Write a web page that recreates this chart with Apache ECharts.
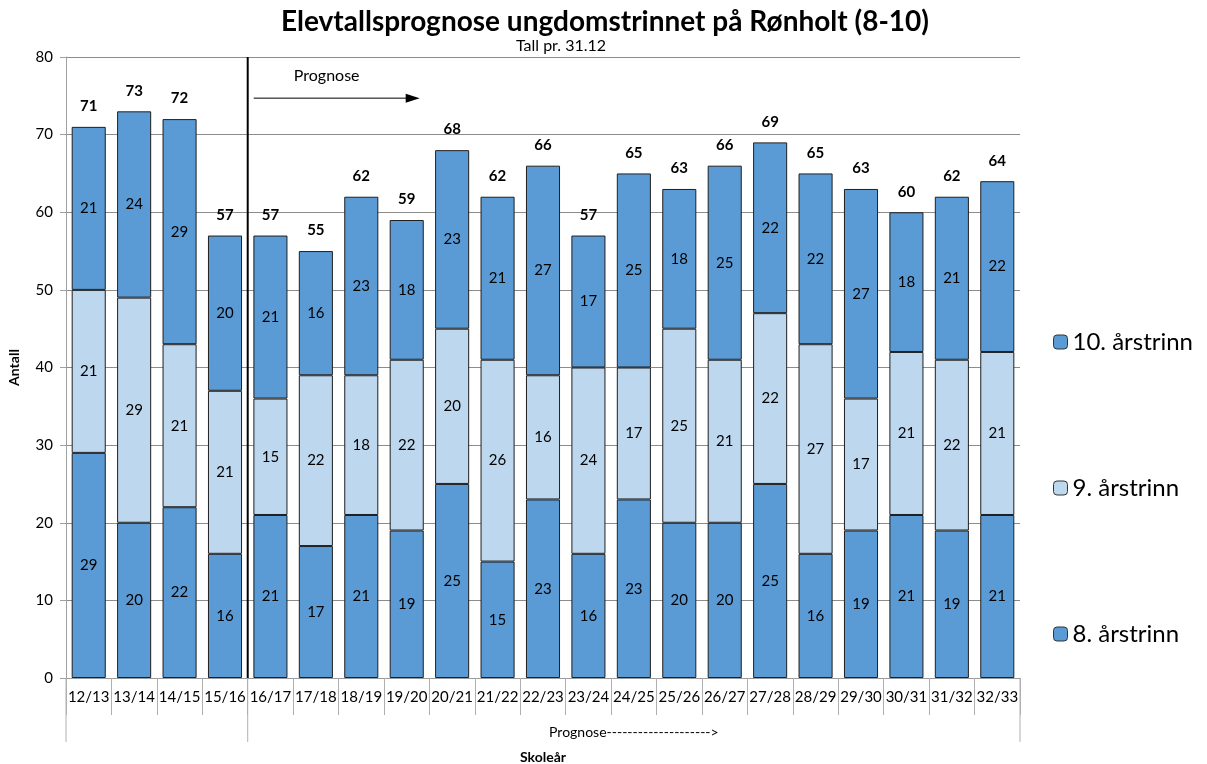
<!DOCTYPE html>
<html><head><meta charset="utf-8">
<script src="https://cdn.jsdelivr.net/npm/echarts@6/dist/echarts.min.js"></script>
<style>html,body{margin:0;padding:0;background:#fff}#c{width:1207px;height:764px}</style>
</head><body><div id="c"></div>
<script>
const categories = ['12/13','13/14','14/15','15/16','16/17','17/18','18/19','19/20','20/21','21/22','22/23','23/24','24/25','25/26','26/27','27/28','28/29','29/30','30/31','31/32','32/33'];
const trinn8  = [29,20,22,16,21,17,21,19,25,15,23,16,23,20,20,25,16,19,21,19,21];
const trinn9  = [21,29,21,21,15,22,18,22,20,26,16,24,17,25,21,22,27,17,21,22,21];
const trinn10 = [21,24,29,20,21,16,23,18,23,21,27,17,25,18,25,22,22,27,18,21,22];
const totals  = [71,73,72,57,57,55,62,59,68,62,66,57,65,63,66,69,65,63,60,62,64];
const yTicks = {min:0, max:80, interval:10};

const FONT = 'Lato';
const chart = echarts.init(document.getElementById('c'));
const segLabel = {show:true, position:'inside', color:'#000', fontSize:15, fontFamily:FONT};
const border = {borderColor:'#1f1f1f', borderWidth:1};
const option = {
  animation:false,
  textStyle:{fontFamily:FONT},
  title:[
    {text:'Elevtallsprognose ungdomstrinnet på Rønholt (8-10)', left:600, top:3, textAlign:'center',
     textStyle:{fontSize:28, fontWeight:'bold', color:'#000', fontFamily:FONT}},
    {text:'Tall pr. 31.12', left:556, top:33, textAlign:'center',
     textStyle:{fontSize:16, fontWeight:'normal', color:'#000', fontFamily:FONT}}
  ],
  grid:{left:66, right:187, top:57, bottom:86, containLabel:false, outerBoundsMode:'none'},
  legend:{
    orient:'vertical', left:1048, top:325, itemGap:122, itemWidth:14, itemHeight:14,
    data:['10. årstrinn','9. årstrinn','8. årstrinn'],
    textStyle:{fontSize:24, color:'#000', fontFamily:FONT},
    itemStyle:{borderColor:'#333', borderWidth:1}
  },
  xAxis:{
    type:'category', data:categories,
    axisLine:{lineStyle:{color:'#9a9a9a'}},
    axisTick:{show:true, length:37, lineStyle:{color:'#b0b0b0'}},
    axisLabel:{color:'#000', fontSize:15, margin:12, fontFamily:FONT, interval:0},
    name:'Skoleår', nameLocation:'middle', nameGap:72,
    nameTextStyle:{fontWeight:'bold', fontSize:14, color:'#000', fontFamily:FONT}
  },
  yAxis:{
    type:'value', min:yTicks.min, max:yTicks.max, interval:yTicks.interval,
    axisLine:{show:true, lineStyle:{color:'#a0a0a0'}},
    axisTick:{show:true, length:6, lineStyle:{color:'#a0a0a0'}},
    splitLine:{lineStyle:{color:'#8c8c8c'}},
    axisLabel:{color:'#000', fontSize:15, margin:13, fontFamily:FONT},
    name:'Antall', nameLocation:'middle', nameGap:45,
    nameTextStyle:{fontWeight:'bold', fontSize:14, color:'#000', fontFamily:FONT}
  },
  series:[
    {name:'8. årstrinn', type:'bar', stack:'t', data:trinn8, barWidth:'75%',
     itemStyle:Object.assign({color:'#5b9bd5'}, border), label:segLabel},
    {name:'9. årstrinn', type:'bar', stack:'t', data:trinn9,
     itemStyle:Object.assign({color:'#bdd7ee'}, border), label:segLabel},
    {name:'10. årstrinn', type:'bar', stack:'t', data:trinn10,
     itemStyle:Object.assign({color:'#5b9bd5'}, border), label:segLabel},
    {name:'Total', type:'scatter', data:totals, symbolSize:0, silent:true,
     itemStyle:{opacity:1, color:'#000'},
     label:{show:true, position:'top', distance:13, color:'#000', fontWeight:'bold', fontSize:15, fontFamily:FONT}}
  ]
};
chart.setOption(option);

function px(ci, v){ return chart.convertToPixel({gridIndex:0}, [ci, v]); }
const bottom0 = px(0,0)[1];
const top80 = px(0,80)[1];
const half = (px(1,0)[0]-px(0,0)[0])/2;
const sepX = (px(3,0)[0]+px(4,0)[0])/2;
const leftX = px(0,0)[0]-half;
const rightX = px(categories.length-1,0)[0]+half;
const grpBottom = bottom0 + 64;
const arrowY = px(0,74.7)[1];
const progY = px(0,77.6)[1];
chart.setOption({graphic:[
  {type:'line', shape:{x1:sepX, y1:top80, x2:sepX, y2:bottom0}, style:{stroke:'#000', lineWidth:2}},
  {type:'line', shape:{x1:leftX, y1:bottom0, x2:leftX, y2:grpBottom}, style:{stroke:'#b0b0b0', lineWidth:1}},
  {type:'line', shape:{x1:sepX, y1:bottom0, x2:sepX, y2:grpBottom}, style:{stroke:'#b0b0b0', lineWidth:1}},
  {type:'line', shape:{x1:rightX, y1:bottom0, x2:rightX, y2:grpBottom}, style:{stroke:'#b0b0b0', lineWidth:1}},
  {type:'text', x:(sepX+rightX)/2, y:bottom0+54, style:{text:'Prognose-------------------->', fill:'#000', font:'14px '+FONT, textAlign:'center', textVerticalAlign:'middle'}},
  {type:'line', shape:{x1:sepX+6, y1:arrowY, x2:sepX+160, y2:arrowY}, style:{stroke:'#000', lineWidth:1}},
  {type:'polygon', shape:{points:[[sepX+172,arrowY],[sepX+158,arrowY-4.5],[sepX+158,arrowY+4.5]]}, style:{fill:'#000'}},
  {type:'text', x:sepX+79, y:progY, style:{text:'Prognose', fill:'#000', font:'16px '+FONT, textAlign:'center', textVerticalAlign:'middle'}}
]});
</script></body></html>
